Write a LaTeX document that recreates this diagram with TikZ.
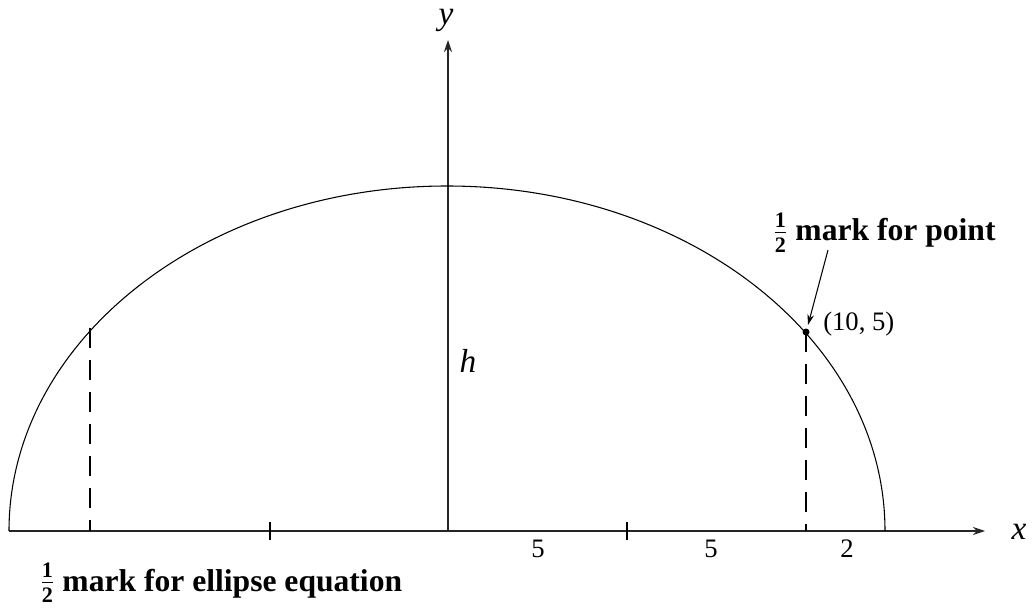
\documentclass[tikz,border=0pt]{standalone}
\usepackage{amsmath}
\usepackage{fontspec}
\setmainfont{Liberation Serif}
\usetikzlibrary{arrows.meta}
\newcommand{\halfb}{$\frac{\text{\bfseries 1}}{\text{\bfseries 2}}$}
\begin{document}
\begin{tikzpicture}[x=0.75pt,y=0.75pt,
  line/.style={line width=0.8pt,black},
  axis/.style={line width=0.9pt,black!85,-{Stealth[length=9pt,width=6pt]}},
  dashline/.style={line width=0.8pt,dash pattern=on 15pt off 9pt},
  num/.style={font=\fontsize{20}{24}\selectfont,anchor=base},
  axlab/.style={font=\fontsize{25}{30}\selectfont\itshape,anchor=base,inner sep=0pt},
  boldlab/.style={font=\fontsize{23.7}{28}\selectfont\bfseries,anchor=base west,inner sep=0pt}]
\useasboundingbox (0,0) rectangle (1032,615);
% axes
\coordinate (O) at (448,84);
\coordinate (xs) at (9,84);
\coordinate (xe) at (985,84);
\coordinate (ye) at (448,575);
\draw[axis] (xs) -- (xe);
\draw[axis] (O) -- (ye);
% ellipse
\draw[line] (xs) arc[start angle=180,end angle=0,x radius=438,y radius=345];
% ticks
\coordinate (t1a) at (270,93); \coordinate (t1b) at (270,75);
\coordinate (t2a) at (627,93); \coordinate (t2b) at (627,75);
\draw[line] (t1a) -- (t1b);
\draw[line] (t2a) -- (t2b);
% dashed lines
\coordinate (P) at (806,283);
\coordinate (Pb) at (806,84);
\coordinate (Q) at (90,287);
\coordinate (Qb) at (90,84);
\draw[dashline] (P) -- (Pb);
\draw[dashline] (Q) -- (Qb);
\fill (P) circle[radius=3.5];
% labels
\node[num] (n1) at (538,58) {5};
\node[num] (n2) at (711,58) {5};
\node[num] (n3) at (847,58) {2};
\node[axlab] (xl) at (1019,76) {x};
\node[axlab] (yl) at (446,590) {y};
\node[axlab] (hl) at (468,243) {h};
\node[num,anchor=base west,inner sep=0pt] (pl) at (823,285) {(10, 5)};
\node[boldlab] (bl1) at (773,374) {\halfb\ mark for point};
\node[boldlab] (bl2) at (40,24) {\halfb\ mark for ellipse equation};
\coordinate (as) at (828,365);
\draw[line,-{Stealth[length=8pt,width=5pt]}] (as) -- (808,290);
\end{tikzpicture}
\end{document}
